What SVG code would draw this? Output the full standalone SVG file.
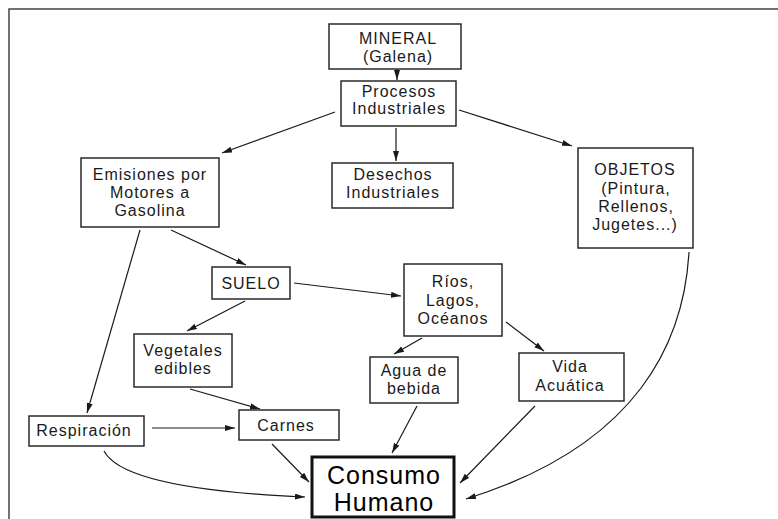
<svg xmlns="http://www.w3.org/2000/svg" width="778" height="519" viewBox="0 0 778 519">
<style>
.box{fill:#fff;stroke:#2a2a2a;stroke-width:1.5}
.big{fill:#fff;stroke:#111;stroke-width:3}
.t{font-family:"Liberation Sans",Arial,sans-serif;font-size:16px;letter-spacing:1px;fill:#1a1a1a;text-anchor:middle}
.tb{font-family:"Liberation Sans",Arial,sans-serif;font-size:25px;letter-spacing:1px;fill:#000;text-anchor:middle}
.c{fill:none;stroke:#1a1a1a;stroke-width:1.2;marker-end:url(#ah)}
</style>
<defs>
<marker id="ah" markerUnits="userSpaceOnUse" markerWidth="11" markerHeight="7" refX="10" refY="3" orient="auto">
<path d="M0,0 L10,3 L0,6 z" fill="#1a1a1a"/>
</marker>
</defs>
<rect width="778" height="519" fill="#fff"/>
<path d="M9,519 V9 H778" fill="none" stroke="#444" stroke-width="1.5"/>
<g id="connectors">
<line class="c" x1="397" y1="69" x2="397" y2="80"/>
<line class="c" x1="335" y1="112" x2="222" y2="153"/>
<line class="c" x1="396" y1="128" x2="396" y2="161"/>
<line class="c" x1="459" y1="110" x2="572" y2="146"/>
<line class="c" x1="140" y1="230" x2="87" y2="413"/>
<line class="c" x1="171" y1="230" x2="246" y2="265"/>
<line class="c" x1="294" y1="283" x2="401" y2="296"/>
<line class="c" x1="245" y1="301" x2="187" y2="331"/>
<line class="c" x1="422" y1="338" x2="394" y2="354"/>
<line class="c" x1="506" y1="322" x2="544" y2="351"/>
<line class="c" x1="190" y1="389" x2="260" y2="409"/>
<line class="c" x1="152" y1="428" x2="235" y2="428"/>
<line class="c" x1="272" y1="444" x2="309" y2="482"/>
<line class="c" x1="417" y1="406" x2="392" y2="453"/>
<line class="c" x1="535" y1="406" x2="460" y2="483"/>
<path class="c" d="M104,451 C118,478 190,492 305,497"/>
<path class="c" d="M689,252 C684,340 640,445 466,499"/>
</g>
<g id="mineral"><rect class="box" x="329" y="24" width="132" height="45"/><text class="t" x="398" y="44">MINERAL</text><text class="t" x="398" y="62">(Galena)</text></g>
<g id="procesos"><rect class="box" x="341" y="81" width="115" height="45"/><text class="t" x="399" y="97">Procesos</text><text class="t" x="399" y="114">Industriales</text></g>
<g id="emisiones"><rect class="box" x="81" y="158" width="138" height="69"/><text class="t" x="150" y="180">Emisiones por</text><text class="t" x="150" y="198">Motores a</text><text class="t" x="150" y="216">Gasolina</text></g>
<g id="desechos"><rect class="box" x="332" y="163" width="121" height="45"/><text class="t" x="393" y="180">Desechos</text><text class="t" x="393" y="198">Industriales</text></g>
<g id="objetos"><rect class="box" x="578" y="148" width="115" height="100"/><text class="t" x="635" y="175">OBJETOS</text><text class="t" x="636" y="194">(Pintura,</text><text class="t" x="636" y="212">Rellenos,</text><text class="t" x="635" y="230">Jugetes...)</text></g>
<g id="suelo"><rect class="box" x="212" y="267" width="78" height="32"/><text class="t" x="251" y="289">SUELO</text></g>
<g id="rios"><rect class="box" x="404" y="264" width="98" height="72"/><text class="t" x="453" y="287">Ríos,</text><text class="t" x="453" y="306">Lagos,</text><text class="t" x="453" y="324">Océanos</text></g>
<g id="vegetales"><rect class="box" x="134" y="334" width="98" height="53"/><text class="t" x="183" y="356">Vegetales</text><text class="t" x="183" y="374">edibles</text></g>
<g id="agua"><rect class="box" x="370" y="357" width="88" height="46"/><text class="t" x="414" y="376">Agua de</text><text class="t" x="414" y="394">bebida</text></g>
<g id="vida"><rect class="box" x="519" y="353" width="105" height="48"/><text class="t" x="570" y="372">Vida</text><text class="t" x="570" y="391">Acuática</text></g>
<g id="respiracion"><rect class="box" x="29" y="416" width="115" height="30"/><text class="t" x="84" y="436">Respiración</text></g>
<g id="carnes"><rect class="box" x="239" y="410" width="100" height="30"/><text class="t" x="286" y="431">Carnes</text></g>
<g id="consumo"><rect class="big" x="312" y="457" width="142" height="60"/><text class="tb" x="384" y="484">Consumo</text><text class="tb" x="384" y="511">Humano</text></g>
</svg>
